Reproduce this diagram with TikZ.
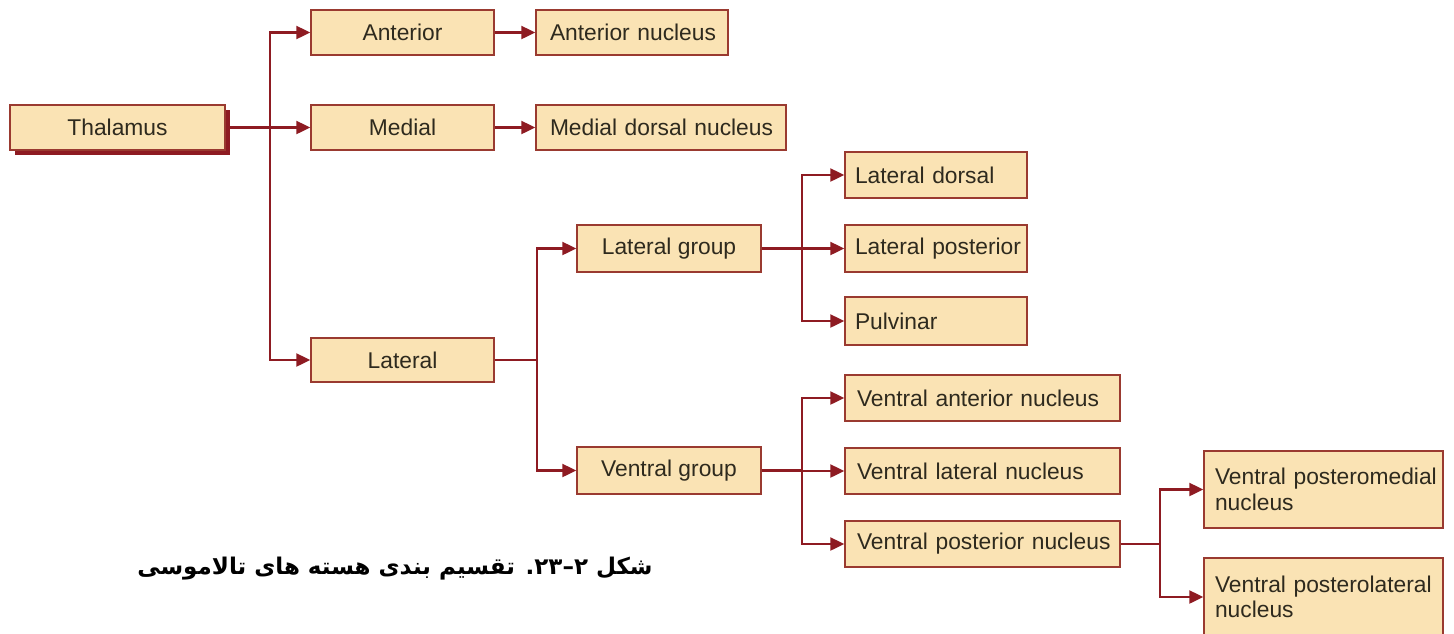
\documentclass[tikz,border=0pt]{standalone}
\usepackage{fontspec}
\setmainfont{Liberation Sans}
\newfontfamily\arabicfont[Script=Arabic]{DejaVu Sans}
\TeXXeTstate=1
\usetikzlibrary{arrows.meta}
\definecolor{boxfill}{HTML}{FAE3B4}
\definecolor{boxline}{HTML}{9A3A30}
\definecolor{conn}{HTML}{8E1B22}
\definecolor{txt}{HTML}{2E2A1E}
\begin{document}
\begin{tikzpicture}[x=1pt,y=-1pt,
  box/.style={draw=boxline,fill=boxfill,line width=1.4pt,text=txt,
    font=\fontsize{22.8}{25.5}\selectfont,inner sep=0pt,align=center},
  leaf/.style={box,align=left,inner xsep=11pt},
  wire/.style={draw=conn,line width=2.2pt},
  arr/.style={wire,-{Triangle[length=14pt,width=13pt]}}]
\useasboundingbox (0,0) rectangle (1454,633);
% Thalamus with shadow
\fill[conn] (15,110) rectangle (230,155);
\node[box,minimum width=215pt,minimum height=45pt] (thal) at (117.5,127.5) {Thalamus};
% first level
\node[box,minimum width=183pt,minimum height=45pt] (ant) at (402.5,32.5) {Anterior};
\node[box,minimum width=183pt,minimum height=45pt] (med) at (402.5,127.5) {Medial};
\node[box,minimum width=183pt,minimum height=44pt] (lat) at (402.5,360) {Lateral};
\node[leaf,inner xsep=14pt,text width=164pt,minimum height=45pt] (antn) at (632,32.5) {\mbox{Anterior nucleus}};
\node[leaf,inner xsep=14pt,text width=222pt,minimum height=45pt] (medn) at (661,127.5) {\mbox{Medial dorsal nucleus}};
% groups
\node[box,minimum width=184pt,minimum height=47pt] (latg) at (669,248.5) {Lateral group};
\node[box,minimum width=184pt,minimum height=47pt] (ventg) at (669,470.5) {Ventral group};
% lateral group leaves
\node[leaf,inner xsep=10pt,text width=162pt,minimum height=46pt] (ld) at (936,175) {\mbox{Lateral dorsal}};
\node[leaf,inner xsep=10pt,text width=162pt,minimum height=47pt] (lp) at (936,248.5) {\mbox{Lateral posterior}};
\node[leaf,inner xsep=10pt,text width=162pt,minimum height=48pt] (pulv) at (936,321) {\mbox{Pulvinar}};
% ventral group leaves
\node[leaf,inner xsep=12pt,text width=251pt,minimum height=46pt] (va) at (982.5,398) {\mbox{Ventral anterior nucleus}};
\node[leaf,inner xsep=12pt,text width=251pt,minimum height=46pt] (vl) at (982.5,471) {\mbox{Ventral lateral nucleus}};
\node[leaf,inner xsep=12pt,text width=251pt,minimum height=46pt] (vp) at (982.5,544) {\mbox{Ventral posterior nucleus}};
\node[leaf,text width=217pt,minimum height=77pt] (vpm) at (1323.5,489.5) {\mbox{Ventral posteromedial}\\\mbox{nucleus}};
\node[leaf,text width=217pt,minimum height=78pt] (vpl) at (1323.5,597) {\mbox{Ventral posterolateral}\\\mbox{nucleus}};
% connectors
\coordinate (j1) at (270,127.5);
\draw[wire] (thal.east) -- (j1);
\draw[arr] (j1) |- (ant);
\draw[arr] (j1) |- (med);
\draw[arr] (j1) |- (lat);
\draw[arr] (ant) -- (antn);
\draw[arr] (med) -- (medn);
\coordinate (j2) at (537,360);
\draw[wire] (lat.east) -- (j2);
\draw[arr] (j2) |- (latg);
\draw[arr] (j2) |- (ventg);
\coordinate (j3) at (802,248.5);
\draw[wire] (latg.east) -- (j3);
\draw[arr] (j3) |- (ld);
\draw[arr] (j3) |- (lp);
\draw[arr] (j3) |- (pulv);
\coordinate (j4) at (802,470.5);
\draw[wire] (ventg.east) -- (j4);
\draw[arr] (j4) |- (va);
\draw[arr] (j4) |- (vl);
\draw[arr] (j4) |- (vp);
\coordinate (j5) at (1160,544);
\draw[wire] (vp.east) -- (j5);
\draw[arr] (j5) |- (vpm);
\draw[arr] (j5) |- (vpl);
% caption
\node[text=black,font=\arabicfont\fontsize{23}{28}\selectfont\bfseries,inner sep=0pt] (cap) at (395,569)
  {\beginR شکل \beginL ۲–۲۳\endL. تقسیم بندی هسته های تالاموسی\endR};
\end{tikzpicture}
\end{document}
